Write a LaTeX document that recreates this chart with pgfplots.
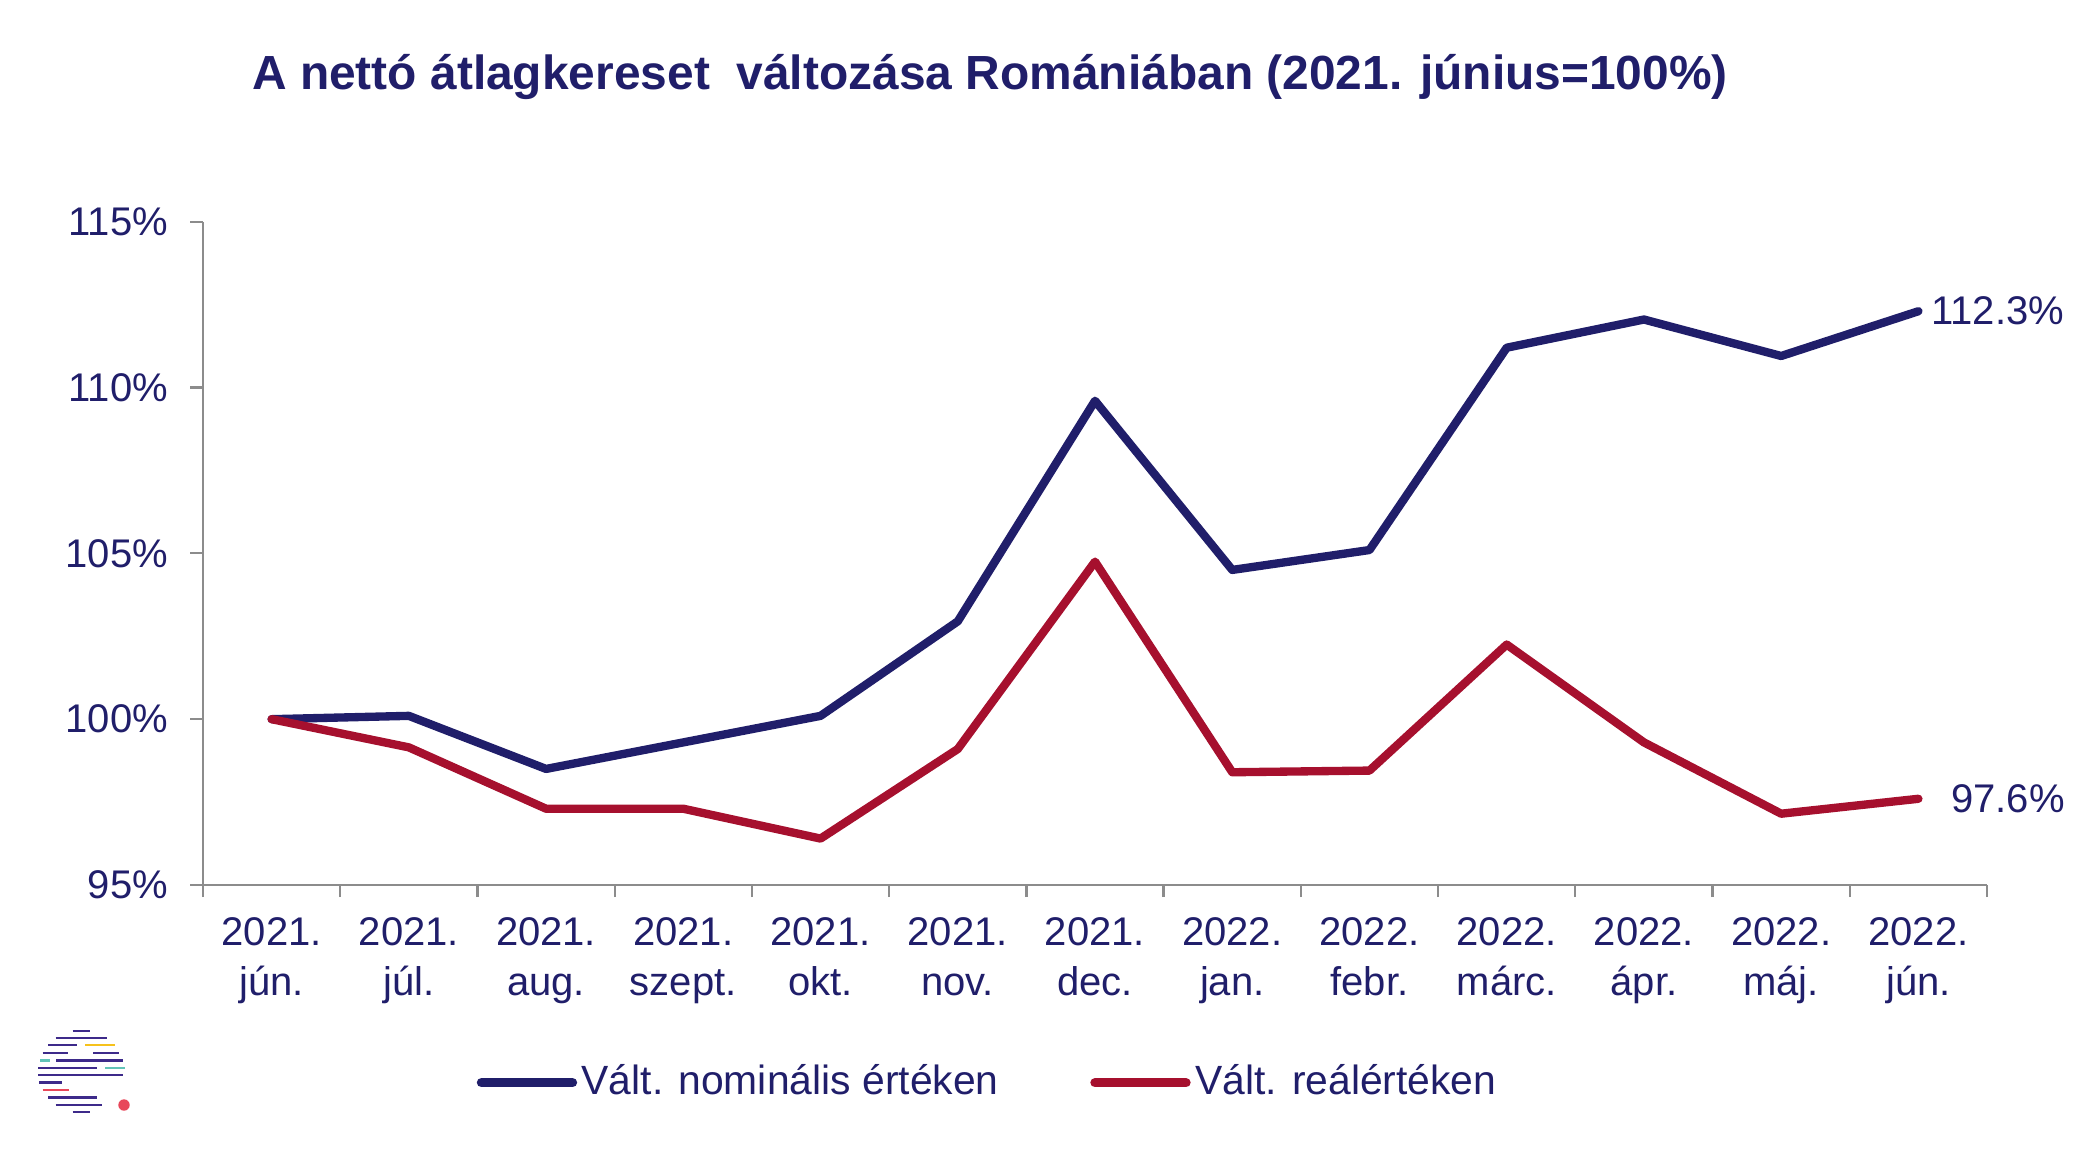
\documentclass[border=0pt]{standalone}
\usepackage{pgfplots}
\pgfplotsset{compat=1.18}
\usepackage{fontspec}
\setmainfont{Liberation Sans}
\definecolor{navy}{HTML}{201E6A}
\definecolor{wred}{HTML}{A6102E}
\definecolor{axgray}{HTML}{8C8C8C}
\definecolor{lpurple}{HTML}{3D2A8A}
\definecolor{lyellow}{HTML}{F6C21C}
\definecolor{lteal}{HTML}{62C4B8}
\definecolor{lred}{HTML}{E8475A}
\begin{document}
\begin{tikzpicture}
\path[use as bounding box] (0,0) rectangle (499.44pt,281.28pt);
\node[anchor=base, font=\bfseries\fontsize{11.5}{14}\selectfont, text=navy, inner sep=0pt] at (237.6pt,259.7pt) {A nettó átlagkereset\ \ változása Romániában (2021. június=100\%)};
\begin{axis}[
  at={(48.72pt,68.88pt)}, anchor=south west,
  scale only axis, width=428.16pt, height=159.2pt,
  xmin=-0.5, xmax=12.5, ymin=95, ymax=115,
  axis x line=bottom, axis y line=left,
  axis line style={-, draw=axgray, line width=0.55pt},
  xtick={0,...,12},
  xticklabels={{2021.\\jún.},{2021.\\júl.},{2021.\\aug.},{2021.\\szept.},{2021.\\okt.},{2021.\\nov.},{2021.\\dec.},{2022.\\jan.},{2022.\\febr.},{2022.\\márc.},{2022.\\ápr.},{2022.\\máj.},{2022.\\jún.}},
  every major x tick/.append style={draw=none},
  minor xtick={-0.5,0.5,...,12.5},
  ytick={95,100,105,110,115},
  yticklabels={95\%,100\%,105\%,110\%,115\%},
  tick style={draw=axgray, line width=0.55pt},
  tick align=outside, major tick length=3.1pt, minor tick length=2.9pt,
  xticklabel style={font=\fontsize{9.6}{12}\selectfont, text=navy, align=center, inner sep=0pt, anchor=north, yshift=-4.6pt},
  yticklabel style={font=\fontsize{9.6}{11.5}\selectfont, text=navy, inner sep=0pt, anchor=east, xshift=-5.1pt},
  legend style={draw=none, fill=none, at={(0.4405,-0.298)}, anchor=center, legend columns=2,
    font=\fontsize{9.8}{12}\selectfont, text=navy,
    /tikz/every even column/.append style={column sep=20.9pt},
    nodes={inner xsep=1.1pt, inner ysep=0pt}},
  legend image code/.code={\draw[#1, line width=2.3pt, line cap=round] (0pt,0pt) -- (21.8pt,0pt);},
  clip=false,
]
\addplot[navy, line width=2pt, line cap=round, line join=round] coordinates {
 (0,100.0) (1,100.1) (2,98.5) (3,99.3) (4,100.1) (5,102.95) (6,109.6)
 (7,104.5) (8,105.1) (9,111.2) (10,112.05) (11,110.95) (12,112.3)};
\addlegendentry{Vált. nominális értéken}
\addplot[wred, line width=2pt, line cap=round, line join=round] coordinates {
 (0,100.0) (1,99.15) (2,97.3) (3,97.3) (4,96.4) (5,99.1) (6,104.75)
 (7,98.4) (8,98.45) (9,102.25) (10,99.3) (11,97.15) (12,97.6)};
\addlegendentry{Vált. reálértéken}
\node[anchor=west, inner sep=0pt, xshift=2.9pt, text=navy, font=\fontsize{9.6}{11.5}\selectfont] at (axis cs:12,112.3) {112.3\%};
\node[anchor=west, inner sep=0pt, xshift=7.7pt, text=navy, font=\fontsize{9.6}{11.5}\selectfont] at (axis cs:12,97.6) {97.6\%};
\end{axis}
\begin{scope}[shift={(4.8pt,38.88pt)}, x=0.08pt, y=-0.08pt, line width=0.56pt]
\draw[lpurple] (158,62)--(210,62);
\draw[lpurple] (107,83)--(262,83);
\draw[lpurple] (85,105)--(170,105);
\draw[lyellow] (195,105)--(285,105);
\draw[lpurple] (68,128)--(143,128);
\draw[lpurple] (220,128)--(297,128);
\draw[lteal] (60,151)--(90,151);
\draw[lpurple] (108,151)--(310,151);
\draw[lpurple] (55,173)--(232,173);
\draw[lteal] (255,173)--(315,173);
\draw[lpurple] (55,195)--(310,195);
\draw[lpurple] (58,217)--(126,217);
\draw[lred] (68,240)--(147,240);
\draw[lpurple] (85,262)--(232,262);
\draw[lpurple] (107,284)--(245,284);
\draw[lpurple] (158,306)--(210,306);
\fill[lred] (312,285) circle[radius=1.37pt];
\end{scope}
\end{tikzpicture}
\end{document}
